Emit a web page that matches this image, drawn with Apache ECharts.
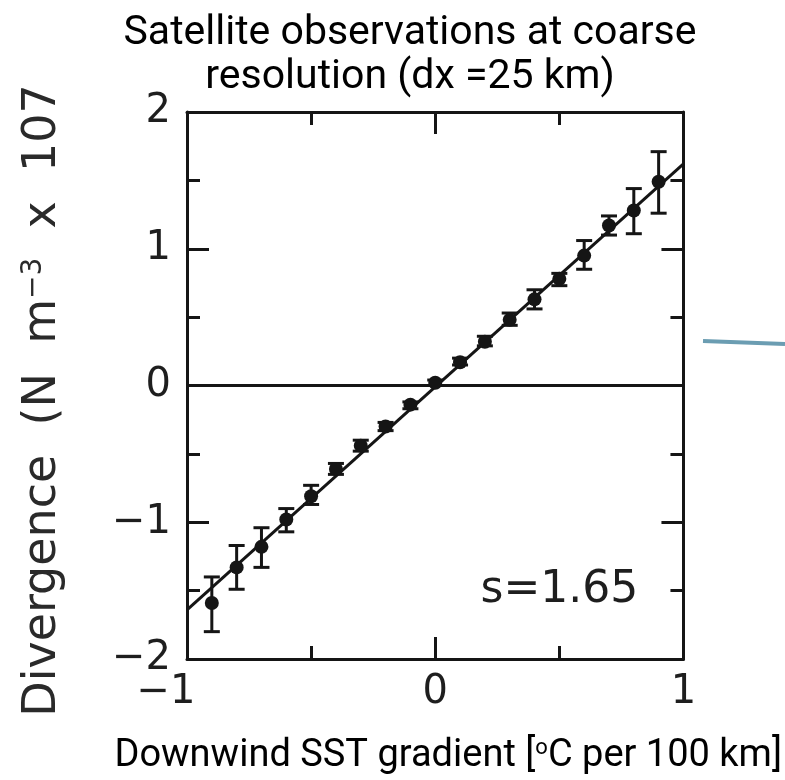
<!DOCTYPE html>
<html><head><meta charset="utf-8">
<script src="https://cdn.jsdelivr.net/npm/echarts@6/dist/echarts.min.js"></script>
<style>html,body{margin:0;padding:0;background:#fff}#c{width:785px;height:780px}</style>
</head><body><div id="c"></div>
<script>
// ---- data ----
const xValues = [-0.9,-0.8,-0.7,-0.6,-0.5,-0.4,-0.3,-0.2,-0.1,0,0.1,0.2,0.3,0.4,0.5,0.6,0.7,0.8,0.9];
const yValues = [-1.59,-1.33,-1.18,-0.98,-0.81,-0.61,-0.44,-0.30,-0.14,0.02,0.17,0.32,0.48,0.63,0.78,0.95,1.17,1.28,1.49];
const errLow  = [-1.80,-1.49,-1.33,-1.07,-0.87,-0.65,-0.48,-0.33,-0.17,0.00,0.15,0.29,0.44,0.56,0.73,0.85,1.10,1.11,1.26];
const errHigh = [-1.40,-1.17,-1.04,-0.90,-0.73,-0.57,-0.40,-0.27,-0.12,0.04,0.20,0.36,0.53,0.70,0.82,1.06,1.24,1.44,1.71];
const fitX = [-1, 1];
const fitY = [-1.64, 1.62];
const zeroX = [-1, 1];
const zeroY = [0, 0];
const xRange = {min: -1, max: 1, interval: 1};
const yRange = {min: -2, max: 2, interval: 1};
const annotationText = 's=1.65';
const annotationPos = [0.5, -1.5];
const titleText = 'Satellite observations at coarse\nresolution (dx =25 km)';
const xName = 'Downwind SST gradient [{sup|o}C per 100 km]';
const yName = 'Divergence  (N  m{sup|−3}  x  107';

// ---- chart ----
const ink = '#151515';
const tickFont = {fontFamily: 'DejaVu Sans', fontSize: 40, color: '#1e1e1e'};
const fmt = v => (v < 0 ? '−' + Math.abs(v) : String(v));

function axisCommon() {
  return {
    axisLine: {show: true, onZero: false, lineStyle: {color: ink, width: 3}},
    axisTick: {show: true, inside: true, length: 22, lineStyle: {color: ink, width: 3}},
    minorTick: {show: true, splitNumber: 2, length: 13, lineStyle: {color: ink, width: 3}},
    splitLine: {show: false},
    minorSplitLine: {show: false}
  };
}

const chart = echarts.init(document.getElementById('c'), null, {renderer: 'canvas'});
chart.setOption({
  backgroundColor: '#fff',
  animation: false,
  title: {
    text: titleText,
    left: 410,
    textAlign: 'center',
    top: 12,
    padding: 0,
    textStyle: {fontFamily: 'Roboto', fontWeight: 'normal', fontSize: 41, lineHeight: 44, color: '#000'}
  },
  grid: {left: 187, right: 100, top: 112, bottom: 113, containLabel: false},
  xAxis: [
    Object.assign({
      type: 'value', position: 'bottom', min: xRange.min, max: xRange.max, interval: xRange.interval,
      name: xName, nameLocation: 'middle', nameGap: 78,
      nameTextStyle: {fontFamily: 'Roboto', fontSize: 38, color: '#000', padding: [0, 0, 0, 26],
        rich: {sup: {fontFamily: 'Roboto', fontSize: 22, verticalAlign: 'top', color: '#000'}}},
      axisLabel: Object.assign({margin: 14, formatter: v => v < 0 ? '{n|' + fmt(v) + '}' : fmt(v),
        rich: {n: {fontFamily: 'DejaVu Sans', fontSize: 40, color: '#1e1e1e', padding: [0, 42, 0, 0]}}}, tickFont)
    }, axisCommon()),
    Object.assign({
      type: 'value', position: 'top', min: xRange.min, max: xRange.max, interval: xRange.interval,
      axisLabel: {show: false}
    }, axisCommon())
  ],
  yAxis: [
    Object.assign({
      type: 'value', position: 'left', min: yRange.min, max: yRange.max, interval: yRange.interval,
      name: yName, nameLocation: 'middle', nameRotate: 90, nameGap: 121,
      nameTextStyle: {fontFamily: 'DejaVu Sans', fontSize: 46, color: '#2a2a2a', padding: [0, 30, 0, 0],
        rich: {sup: {fontFamily: 'DejaVu Sans', fontSize: 28, verticalAlign: 'top', color: '#2a2a2a'}}},
      axisLabel: Object.assign({margin: 16, formatter: fmt}, tickFont)
    }, axisCommon()),
    Object.assign({
      type: 'value', position: 'right', min: yRange.min, max: yRange.max, interval: yRange.interval,
      axisLabel: {show: false}
    }, axisCommon())
  ],
  series: [
    {
      type: 'line', name: 'zero', data: zeroX.map((x, i) => [x, zeroY[i]]),
      symbol: 'none', lineStyle: {color: ink, width: 3}, silent: true, z: 2
    },
    {
      type: 'line', name: 'fit', data: fitX.map((x, i) => [x, fitY[i]]),
      symbol: 'none', lineStyle: {color: ink, width: 3}, silent: true, z: 3
    },
    {
      type: 'custom', name: 'err',
      data: xValues.map((x, i) => [x, errLow[i], errHigh[i]]),
      encode: {x: 0, y: [1, 2]},
      z: 4,
      renderItem: (params, api) => {
        const x = api.value(0);
        const pLo = api.coord([x, api.value(1)]);
        const pHi = api.coord([x, api.value(2)]);
        const hw = 8;
        const style = {stroke: ink, lineWidth: 3};
        return {type: 'group', children: [
          {type: 'line', shape: {x1: pLo[0], y1: pLo[1], x2: pHi[0], y2: pHi[1]}, style},
          {type: 'line', shape: {x1: pLo[0] - hw, y1: pLo[1], x2: pLo[0] + hw, y2: pLo[1]}, style},
          {type: 'line', shape: {x1: pHi[0] - hw, y1: pHi[1], x2: pHi[0] + hw, y2: pHi[1]}, style}
        ]};
      }
    },
    {
      type: 'scatter', name: 'obs', data: xValues.map((x, i) => [x, yValues[i]]),
      symbol: 'circle', symbolSize: 14, itemStyle: {color: ink, opacity: 1}, z: 5,
      markPoint: {
        symbol: 'circle', symbolSize: 1, itemStyle: {color: 'rgba(0,0,0,0)'},
        label: {show: true, position: 'inside', formatter: annotationText,
          fontFamily: 'DejaVu Sans', fontSize: 44, color: '#1e1e1e'},
        data: [{coord: annotationPos}]
      }
    }
  ],
  graphic: [
    {type: 'line', shape: {x1: 703, y1: 341, x2: 785, y2: 344}, style: {stroke: '#6b9db2', lineWidth: 4}}
  ]
});
</script>
</body></html>
